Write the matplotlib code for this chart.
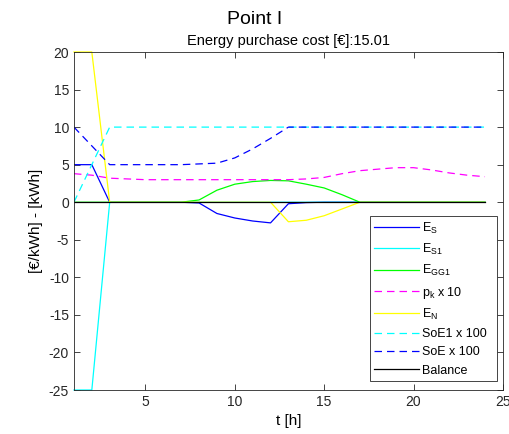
import matplotlib
matplotlib.use("Agg")
import matplotlib.pyplot as plt
import numpy as np

plt.rcParams['font.family'] = ['Liberation Sans', 'DejaVu Sans']
plt.rcParams['mathtext.fontset'] = 'custom'
plt.rcParams['mathtext.rm'] = 'Liberation Sans'
plt.rcParams['mathtext.it'] = 'Liberation Sans'
plt.rcParams['axes.unicode_minus'] = False

t = list(range(1, 25))
E_S = [5, 5, 0, 0, 0, 0, 0, -0.1, -1.5, -2.1, -2.5, -2.75, -0.2, -0.05, 0, 0, 0, 0, 0, 0, 0, 0, 0, 0]
E_S1 = [-25, -25, 0, 0, 0, 0, 0, 0, 0, 0, 0, 0, 0, 0, 0, 0, 0, 0, 0, 0, 0, 0, 0, 0]
E_GG1 = [0, 0, 0, 0, 0, 0, 0, 0.3, 1.6, 2.4, 2.75, 2.9, 2.85, 2.4, 1.9, 1.0, 0, 0, 0, 0, 0, 0, 0, 0]
p_k10 = [3.8, 3.6, 3.2, 3.1, 3.0, 3.0, 3.0, 3.0, 3.0, 3.0, 3.0, 3.0, 3.0, 3.1, 3.3, 3.8, 4.2, 4.4, 4.6, 4.6, 4.3, 3.9, 3.6, 3.4]
E_N = [20, 20, 0, 0, 0, 0, 0, 0, 0, 0, 0, 0, -2.6, -2.4, -1.8, -0.9, 0, 0, 0, 0, 0, 0, 0, 0]
SoE1 = [0, 5, 10, 10, 10, 10, 10, 10, 10, 10, 10, 10, 10, 10, 10, 10, 10, 10, 10, 10, 10, 10, 10, 10]
SoE = [10, 7.5, 5, 5, 5, 5, 5, 5.1, 5.2, 5.9, 7.1, 8.5, 10, 10, 10, 10, 10, 10, 10, 10, 10, 10, 10, 10]
Balance = [0] * 24

fig = plt.figure(figsize=(5.1, 4.34), dpi=100)
ax = fig.add_axes([0.145, 1 - 390 / 434, 0.841, 338 / 434])

lw = 0.9
dash = (0, (6, 4))
ax.plot(t, E_S, color=(0, 0, 1), lw=lw, label=r'E$_\mathregular{S}$')
ax.plot(t, E_S1, color=(0, 1, 1), lw=lw, label=r'E$_\mathregular{S1}$', clip_on=False)
ax.plot(t, E_GG1, color=(0, 1, 0), lw=lw, label=r'E$_\mathregular{GG1}$')
ax.plot(t, p_k10, color=(1, 0, 1), lw=lw, ls=dash, label=r'p$_\mathregular{k}$ x 10')
ax.plot(t, E_N, color=(1, 1, 0), lw=lw, label=r'E$_\mathregular{N}$', clip_on=False)
ax.plot(t, SoE1, color=(0, 1, 1), lw=lw, ls=dash, label='SoE1 x 100')
ax.plot(t, SoE, color=(0, 0, 1), lw=lw, ls=dash, label='SoE x 100')
ax.plot(t, Balance, color='black', lw=lw, label='Balance')

ax.set_xlim(1, 25)
ax.set_ylim(-25, 20)
ax.set_xticks([5, 10, 15, 20, 25])
ax.set_yticks(np.arange(-25, 21, 5))
ax.tick_params(direction='in', top=True, right=True, labelsize=10, length=4, width=0.6, colors='#262626')
for s in ax.spines.values():
    s.set_linewidth(0.6)
    s.set_color('#262626')
    s.set_zorder(3)
ax.set_xlabel('t [h]', fontsize=11)
ax.set_ylabel('[€/kWh] - [kWh]', fontsize=11)
ax.set_title('Energy purchase cost [€]:15.01', fontsize=10.5, pad=5)
fig.suptitle('Point I', fontsize=14, y=0.975)

leg = ax.legend(loc='lower left', bbox_to_anchor=(0.690, 0.0266, 0.296, 0.5), mode='expand',
                fontsize=9, fancybox=False, framealpha=1,
                edgecolor='#262626', borderpad=0.35, labelspacing=0.5,
                handlelength=3.6, handletextpad=0.2, borderaxespad=0)
leg.get_frame().set_linewidth(0.6)

fig.savefig('out.png', dpi=100)
